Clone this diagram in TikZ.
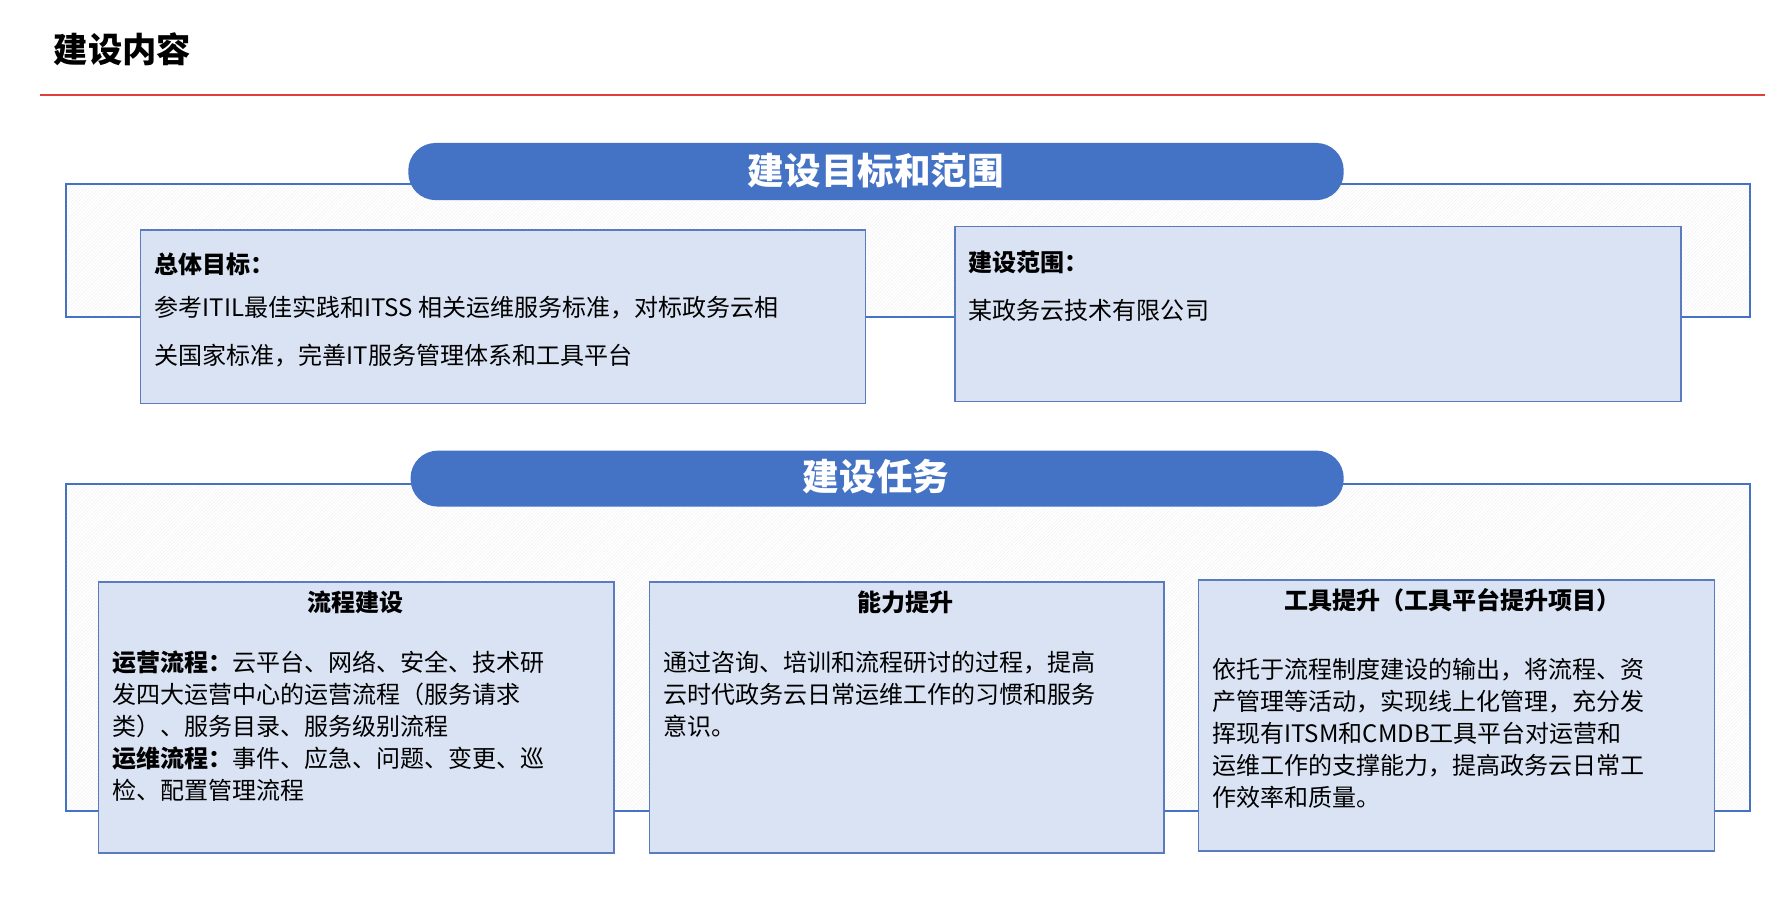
\documentclass[tikz,border=0pt]{standalone}
\usepackage{fontspec}
\setmainfont{Noto Sans CJK SC}
\usetikzlibrary{patterns}
\definecolor{pillblue}{HTML}{4472C4}
\definecolor{boxfill}{HTML}{DAE3F3}
\definecolor{boxline}{HTML}{5A7BBE}
\definecolor{redline}{HTML}{E0403A}
\tikzset{
  frame/.style={draw=pillblue, line width=1.6pt, pattern=north east lines, pattern color=black!6},
  pill/.style={fill=pillblue, rounded corners=24pt},
  pilltext/.style={text=white, font=\fontsize{32}{36}\selectfont\bfseries},
  card/.style={draw=boxline, fill=boxfill, line width=1.3pt},
  txt/.style={anchor=north west, align=left, inner sep=0pt, font=\fontsize{21}{28}\selectfont},
  head/.style={inner sep=0pt, font=\fontsize{21}{26}\selectfont\bfseries}
}
\begin{document}
\begin{tikzpicture}[x=1pt,y=-1pt]
\useasboundingbox (0,0) rectangle (1560,785);
\node[anchor=west, inner sep=0pt, font=\fontsize{30}{34}\selectfont\bfseries] (title) at (47,43) {建设内容};
\coordinate (r1) at (35,83); \coordinate (r2) at (1543,83);
\draw[redline, line width=1.2pt] (r1) -- (r2);
% section 1
\path[frame] (58,161) rectangle (1530,277);
\path[pill] (357,125) rectangle (1175,175);
\node[pilltext] (p1) at (766,149) {建设目标和范围};
\path[card] (123,201) rectangle (757,353);
\node[head, anchor=west] (ha) at (135,231) {总体目标：};
\node[txt] (ta) at (135,259) {参考ITIL最佳实践和ITSS 相关运维服务标准，对标政务云相\\[14pt]关国家标准，完善IT服务管理体系和工具平台};
\path[card] (835,198) rectangle (1470,351);
\node[head, anchor=west] (hb) at (847,229) {建设范围：};
\node[txt, anchor=west] (tb) at (847,271) {某政务云技术有限公司};
% section 2
\path[frame] (58,423) rectangle (1530,709);
\path[pill] (359,394) rectangle (1175,443);
\node[pilltext] (p2) at (766,417) {建设任务};
\path[card] (86,509) rectangle (537,746);
\node[head] (h1) at (311,527) {流程建设};
\node[txt] (t1) at (98,569) {\textbf{运营流程：}云平台、网络、安全、技术研\\发四大运营中心的运营流程（服务请求\\类）、服务目录、服务级别流程\\\textbf{运维流程：}事件、应急、问题、变更、巡\\检、配置管理流程};
\path[card] (568,509) rectangle (1018,746);
\node[head] (h2) at (792,527) {能力提升};
\node[txt] (t2) at (580,569) {通过咨询、培训和流程研讨的过程，提高\\云时代政务云日常运维工作的习惯和服务\\意识。};
\path[card] (1048,507) rectangle (1499,744);
\node[head] (h3) at (1270,525) {工具提升（工具平台提升项目）};
\node[txt] (t3) at (1060,575) {依托于流程制度建设的输出，将流程、资\\产管理等活动，实现线上化管理，充分发\\挥现有ITSM和CMDB工具平台对运营和\\运维工作的支撑能力，提高政务云日常工\\作效率和质量。};
\end{tikzpicture}
\end{document}
